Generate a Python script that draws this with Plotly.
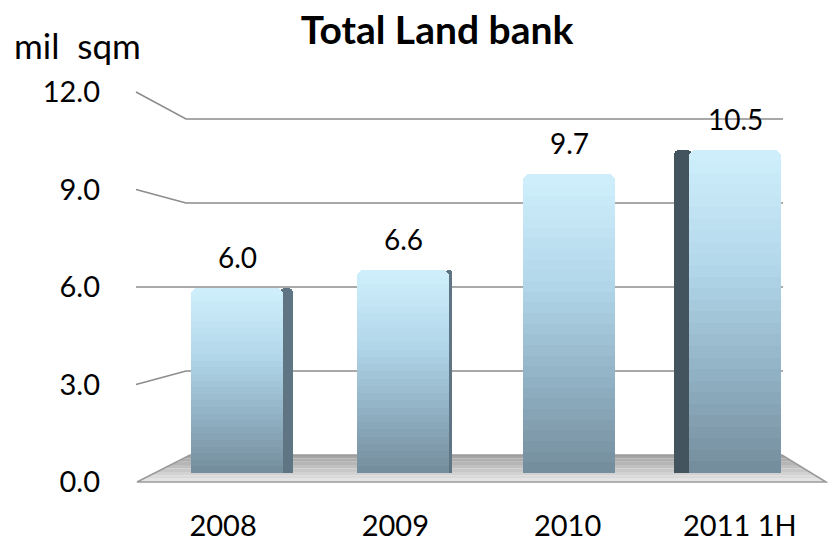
import plotly.graph_objects as go

# ---------------- data ----------------
categories = ["2008", "2009", "2010", "2011 1H"]
values = [6.0, 6.6, 9.7, 10.5]
value_labels = ["6.0", "6.6", "9.7", "10.5"]
tick_values = [0, 3, 6, 9, 12]
tick_labels = ["0.0", "3.0", "6.0", "9.0", "12.0"]
chart_title = "Total Land bank"
unit_label = "mil  sqm"

# ---------------- geometry / style ----------------
W, H = 828, 546
FONT = "Lato"


def px(x):
    return x / W


def py(y):
    return 1 - y / H


FRONT_X, BACK_X, RIGHT_X = 136, 186, 783
FRONT_Y0, FRONT_Y12 = 482, 92
BACK_Y0, BACK_Y12 = 455, 119
YMAX = 12.0


def front_y(v):
    return FRONT_Y0 + (FRONT_Y12 - FRONT_Y0) * v / YMAX


def back_y(v):
    return BACK_Y0 + (BACK_Y12 - BACK_Y0) * v / YMAX


BAR_LEFT, BAR_RIGHT = 154, 818
BAR_BASE, BAR_TOP = 473, 80
PX_PER_UNIT = 30.8
BAR_WIDTH = 0.56

fig = go.Figure()

side_offset = [BAR_WIDTH / 2 - 0.02, BAR_WIDTH / 2 - 0.02, 0.0, -BAR_WIDTH / 2 - 0.085]
side_width = [0.08, 0.035, 0.0, 0.105]
side_colors = ["#5f7584", "#5f7584", "#5f7584", "#43545f"]
fig.add_trace(go.Bar(
    x=categories, y=values, offset=side_offset, width=side_width,
    marker=dict(color=side_colors, line_width=0, cornerradius=5),
    hoverinfo="skip", showlegend=False,
))

stops = [(0.0, (206, 238, 251)), (0.35, (178, 215, 234)),
         (0.7, (142, 174, 192)), (1.0, (114, 138, 153))]


def grad(t):
    for (t0, c0), (t1, c1) in zip(stops[:-1], stops[1:]):
        if t <= t1:
            f = (t - t0) / (t1 - t0)
            return "rgb(%d,%d,%d)" % tuple(round(a + (b - a) * f) for a, b in zip(c0, c1))
    return "rgb(%d,%d,%d)" % stops[-1][1]


N = 28
for k in range(N):
    frac = 1 - k / N
    fig.add_trace(go.Bar(
        x=categories, y=[v * frac for v in values], width=BAR_WIDTH,
        marker=dict(color=grad(k / N), line_width=0, cornerradius=7 if k == 0 else 0),
        hoverinfo="skip", showlegend=False,
    ))

fig.add_trace(go.Scatter(
    x=categories, y=values, xaxis="x2", yaxis="y3", mode="markers",
    marker=dict(opacity=0), hoverinfo="skip", showlegend=False,
))

shapes = []
fl = [(FRONT_X + 1, FRONT_Y0), (BACK_X + 4, BACK_Y0), (RIGHT_X - 1, BACK_Y0), (826, FRONT_Y0)]
nb = 8
for i in range(nb):
    t0, t1 = i / nb, (i + 1) / nb
    lx0 = fl[1][0] + (fl[0][0] - fl[1][0]) * t0
    lx1 = fl[1][0] + (fl[0][0] - fl[1][0]) * t1
    rx0 = fl[2][0] + (fl[3][0] - fl[2][0]) * t0
    rx1 = fl[2][0] + (fl[3][0] - fl[2][0]) * t1
    y0 = BACK_Y0 + (FRONT_Y0 - BACK_Y0) * t0
    y1 = BACK_Y0 + (FRONT_Y0 - BACK_Y0) * t1
    g = round(160 + (232 - 160) * (i + 0.5) / nb)
    path = "M %f %f L %f %f L %f %f L %f %f Z" % (
        px(lx0), py(y0), px(rx0), py(y0), px(rx1), py(y1), px(lx1), py(y1))
    shapes.append(dict(type="path", path=path, xref="paper", yref="paper",
                       fillcolor="rgb(%d,%d,%d)" % (g, g, g), line_width=0, layer="below"))
path = "M %f %f L %f %f L %f %f L %f %f Z" % tuple(
    c for p in fl for c in (px(p[0]), py(p[1])))
shapes.append(dict(type="path", path=path, xref="paper", yref="paper",
                   line=dict(color="#9a9a9a", width=1.5), layer="below"))

for v in tick_values[1:]:
    path = "M %f %f L %f %f L %f %f" % (
        px(FRONT_X), py(front_y(v)), px(BACK_X), py(back_y(v)), px(RIGHT_X), py(back_y(v)))
    shapes.append(dict(type="path", path=path, xref="paper", yref="paper",
                       line=dict(color="#8c8c8c", width=1.5), layer="below"))

annotations = [
    dict(text=unit_label, x=px(12), y=py(45), xref="paper", yref="paper",
         xanchor="left", yanchor="middle", showarrow=False,
         font=dict(family=FONT, size=35, color="black")),
]
for i, (v, lab) in enumerate(zip(values, value_labels)):
    annotations.append(dict(text=lab, x=i, y=v, xref="x", yref="y", yshift=31,
                            xanchor="center", yanchor="middle", showarrow=False,
                            font=dict(family=FONT, size=28, color="black")))

fig.update_layout(
    width=W, height=H,
    margin=dict(l=0, r=0, t=0, b=0, autoexpand=False),
    paper_bgcolor="white", plot_bgcolor="rgba(0,0,0,0)",
    barmode="overlay", bargap=0,
    title=dict(text=chart_title, x=px(437), y=py(30), xref="paper", yref="paper",
               xanchor="center", yanchor="middle",
               font=dict(family=FONT, size=39, color="black", weight="bold")),
    xaxis=dict(domain=[px(BAR_LEFT), px(BAR_RIGHT)], range=[-0.5, 3.5],
               visible=False, type="category", categoryarray=categories),
    yaxis=dict(domain=[py(BAR_BASE), py(BAR_TOP)],
               range=[0, (BAR_BASE - BAR_TOP) / PX_PER_UNIT], visible=False),
    xaxis2=dict(domain=[px(FRONT_X + 1), px(826)], range=[-0.5, 3.5], type="category",
                categoryarray=categories, anchor="free", position=py(506),
                showgrid=False, showline=False, zeroline=False, ticks="",
                tickfont=dict(family=FONT, size=29, color="black")),
    yaxis3=dict(domain=[py(FRONT_Y0), py(FRONT_Y12)], range=[0, YMAX],
                tickvals=tick_values, ticktext=tick_labels, anchor="free",
                position=px(100), showgrid=False, showline=False, zeroline=False,
                ticks="", tickfont=dict(family=FONT, size=29, color="black")),
    shapes=shapes,
    annotations=annotations,
    font=dict(family=FONT),
)

fig.write_html("out.html", config={"displayModeBar": False},
               post_script="document.body.style.margin='0';document.body.style.overflow='hidden';")
